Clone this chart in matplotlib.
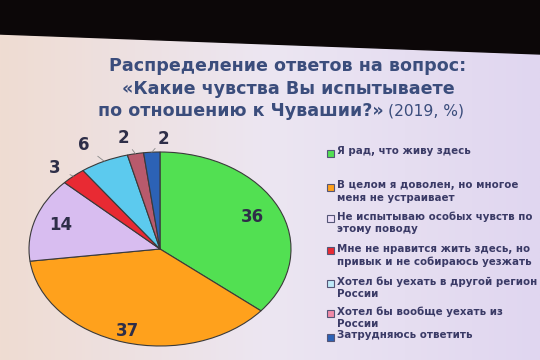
import numpy as np
import matplotlib.pyplot as plt
from matplotlib.colors import LinearSegmentedColormap

values = [36, 37, 14, 3, 6, 2, 2]
labels = [
    "Я рад, что живу здесь",
    "В целом я доволен, но многое\nменя не устраивает",
    "Не испытываю особых чувств по\nэтому поводу",
    "Мне не нравится жить здесь, но\nпривык и не собираюсь уезжать",
    "Хотел бы уехать в другой регион\nРоссии",
    "Хотел бы вообще уехать из\nРоссии",
    "Затрудняюсь ответить",
]
colors = ["#52e052", "#ffa11c", "#d8bdf0", "#e82a33", "#5ccaee", "#b85a6c", "#2c62b6"]
legend_face = ["#52e052", "#ffa11c", "#ecdff8", "#e82a33", "#bfeaf8", "#f08aa8", "#2c62b6"]
legend_y = [153, 187, 218, 250, 283, 313, 337]

W, H = 540, 360
fig = plt.figure(figsize=(W / 100, H / 100), dpi=100)

# background: photographed screen, warm on the left, lavender on the right
bg = fig.add_axes([0, 0, 1, 1])
cmap = LinearSegmentedColormap.from_list("bg", ["#efdcd2", "#ece6f2", "#e0d6f0"])
grad = np.tile(np.linspace(0, 1, 256), (50, 1))
bg.imshow(grad, cmap=cmap, aspect="auto", extent=[0, W, H, 0])
# dark band at the top
bg.fill([0, W, W, 0], [0, 0, 54, 34], color="#0c0708", zorder=2)
bg.set_xlim(0, W)
bg.set_ylim(H, 0)
bg.axis("off")

tcol = "#3b4d7c"
tsize = 12.6
bg.text(288, 66, "Распределение ответов на вопрос:", ha="center", va="center",
        fontsize=tsize, fontweight="bold", color=tcol)
bg.text(288, 89, "«Какие чувства Вы испытываете", ha="center", va="center",
        fontsize=tsize, fontweight="bold", color=tcol)
bg.text(98, 111, "по отношению к Чувашии?»", ha="left", va="center",
        fontsize=tsize, fontweight="bold", color=tcol)
bg.text(388, 111, "(2019, %)", ha="left", va="center",
        fontsize=11.2, color=tcol)

# legend
for lab, fc, y in zip(labels, legend_face, legend_y):
    bg.add_patch(plt.Rectangle((327, y - 3.5), 7, 7, facecolor=fc,
                               edgecolor="#555577", lw=0.8, zorder=3))
    bg.text(337, y - 6.5, lab, ha="left", va="top", fontsize=7.4,
            fontweight="bold", color="#3a3a66", linespacing=1.3)

# pie, squashed vertically like the photo
cx, cy, rx, ry = 160, 249, 131, 97
ax = fig.add_axes([(cx - rx) / W, (H - cy - ry) / H, 2 * rx / W, 2 * ry / H])
wedges, _ = ax.pie(values, colors=colors, startangle=90, counterclock=False,
                   radius=1, wedgeprops=dict(edgecolor="#3a3a3a", linewidth=0.8))
ax.set_xlim(-1, 1)
ax.set_ylim(-1, 1)
ax.set_aspect("auto")
ax.axis("off")

inside_r = [0.78, 0.88, 0.8]
outside_r = [1.12, 1.18, 1.16, 1.14]
outside_dx = [-0.06, -0.08, -0.06, 0.10]
for i, w in enumerate(wedges):
    ang = np.deg2rad((w.theta1 + w.theta2) / 2)
    ca, sa = np.cos(ang), np.sin(ang)
    if i < 3:
        r = inside_r[i]
        ax.text(r * ca, r * sa, str(values[i]), ha="center", va="center",
                fontsize=12, fontweight="bold", color="#2e2e48")
    else:
        r = outside_r[i - 3]
        tx, ty = r * ca + outside_dx[i - 3], r * sa
        ax.annotate(str(values[i]), xy=(ca, sa), xytext=(tx, ty),
                    ha="center", va="center", fontsize=12, fontweight="bold",
                    color="#2e2e48", annotation_clip=False,
                    arrowprops=dict(arrowstyle="-", color="#888888", lw=0.6,
                                    shrinkA=5, shrinkB=0))

fig.savefig("out.png", dpi=100)
